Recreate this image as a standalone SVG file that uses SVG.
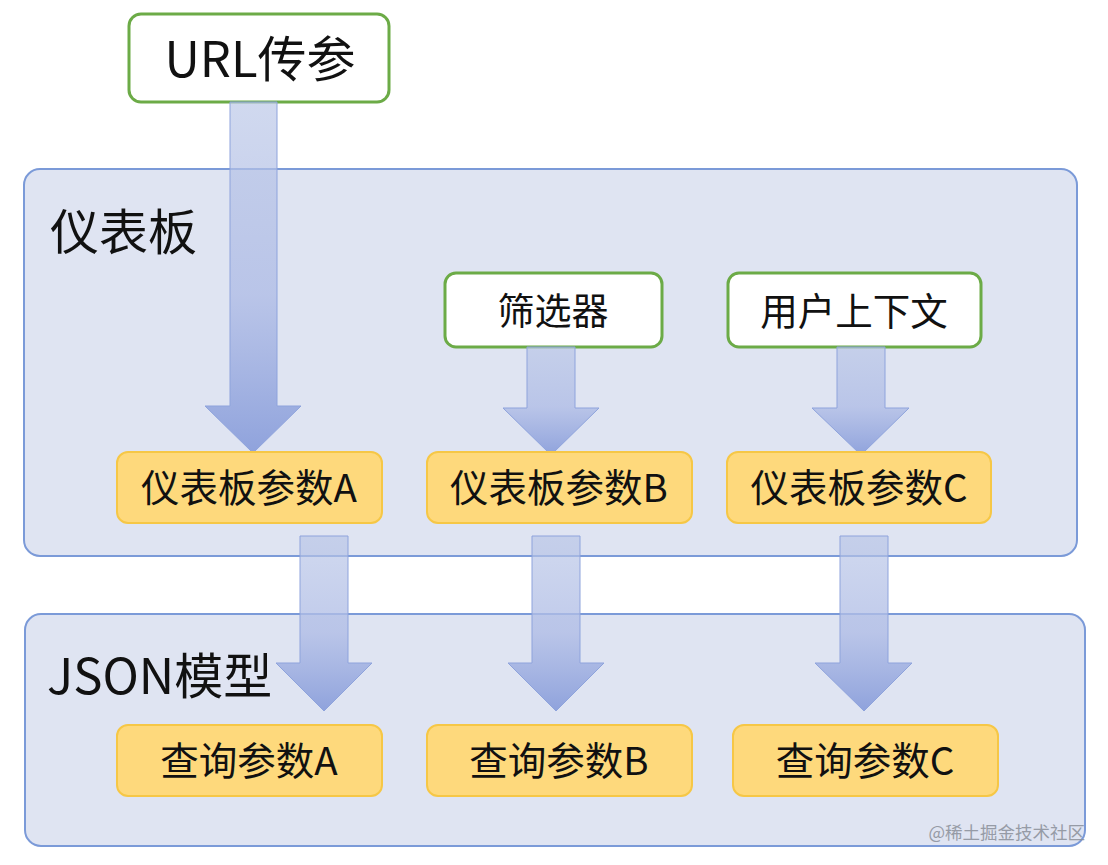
<svg xmlns="http://www.w3.org/2000/svg" width="1108" height="865" viewBox="0 0 1108 865">
<style>
text{font-family:"Noto Sans CJK SC","Noto Sans",sans-serif;fill:#111}
.ct{fill:#dfe4f2;stroke:#7b9ad8;stroke-width:2}
.src{fill:#fff;stroke:#6cab47;stroke-width:3}
.par{fill:#fed97c;stroke:#f6c746;stroke-width:2}
.arr{fill:url(#g);stroke:#8ea3dc;stroke-width:1}
.lbl{text-anchor:middle;font-size:38.5px}
.big{font-size:49px}
</style>
<defs>
<linearGradient id="g" x1="0" y1="0" x2="0" y2="1">
<stop offset="0" stop-color="#b7c4e6" stop-opacity="0.65"/>
<stop offset="0.55" stop-color="#b0bde6" stop-opacity="0.8"/>
<stop offset="1" stop-color="#8b9fdb" stop-opacity="0.95"/>
</linearGradient>
</defs>
<rect width="1108" height="865" fill="#fff"/>
<g id="dashboard"><rect class="ct" x="24" y="169" width="1053" height="387" rx="16"/><text class="big" x="50" y="250">仪表板</text></g>
<g id="json"><rect class="ct" x="25" y="614" width="1060" height="232" rx="16"/><text class="big" x="47" y="694">JSON模型</text></g>
<g id="url"><rect class="src" x="129" y="14" width="260" height="88" rx="12"/><text x="260" y="77" font-size="49" text-anchor="middle">URL传参</text></g>
<g id="filter"><rect class="src" x="445" y="273" width="217" height="74" rx="11"/><text class="lbl" x="553" y="325" style="font-size:37px">筛选器</text></g>
<g id="usercontext"><rect class="src" x="728" y="273" width="253" height="74" rx="11"/><text class="lbl" x="854" y="325" style="font-size:37.5px">用户上下文</text></g>
<g id="connectors">
<path class="arr" d="M230,102 H277 V406 H301 L253,453 L205,406 H230 Z"/>
<path class="arr" d="M527,347 H575 V408 H599 L551,455 L503,408 H527 Z"/>
<path class="arr" d="M837,347 H885 V408 H909 L861,455 L812,408 H837 Z"/>
</g>
<g id="paramA"><rect class="par" x="117" y="452" width="265" height="71" rx="11"/><text class="lbl" x="249" y="502">仪表板参数A</text></g>
<g id="paramB"><rect class="par" x="427" y="452" width="265" height="71" rx="11"/><text class="lbl" x="559" y="502">仪表板参数B</text></g>
<g id="paramC"><rect class="par" x="727" y="452" width="264" height="71" rx="11"/><text class="lbl" x="859" y="502">仪表板参数C</text></g>
<g id="queryA"><rect class="par" x="117" y="725" width="265" height="71" rx="11"/><text class="lbl" x="249" y="775">查询参数A</text></g>
<g id="queryB"><rect class="par" x="427" y="725" width="265" height="71" rx="11"/><text class="lbl" x="559" y="775">查询参数B</text></g>
<g id="queryC"><rect class="par" x="733" y="725" width="265" height="71" rx="11"/><text class="lbl" x="865" y="775">查询参数C</text></g>
<g id="connectors2">
<path class="arr" d="M300,536 H348 V663 H372 L324,711 L276,663 H300 Z"/>
<path class="arr" d="M532,536 H580 V663 H604 L556,711 L508,663 H532 Z"/>
<path class="arr" d="M840,536 H888 V663 H912 L864,711 L815,663 H840 Z"/>
</g>
<text x="1085" y="839" font-size="17.5" text-anchor="end" style="fill:#8a8f99;opacity:0.85">@稀土掘金技术社区</text>
</svg>
